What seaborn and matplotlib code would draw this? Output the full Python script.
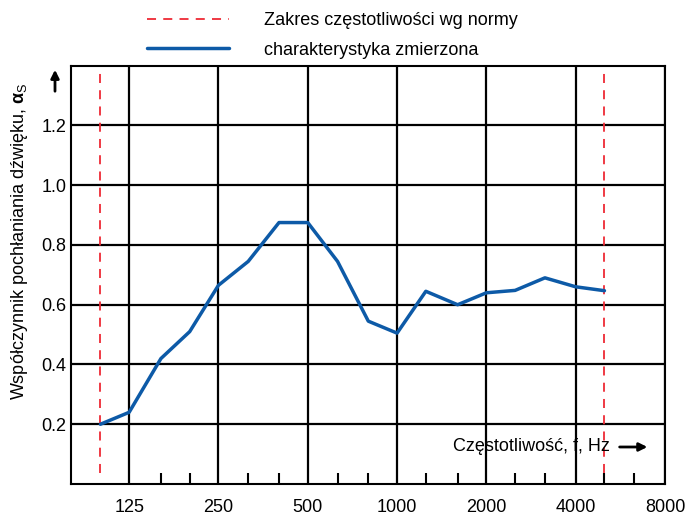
import numpy as np
import pandas as pd
import matplotlib
matplotlib.use("Agg")
import matplotlib.pyplot as plt
import seaborn as sns

# pasma tercjowe i zmierzony wspolczynnik pochlaniania
FREQS = [100, 125, 160, 200, 250, 315, 400, 500, 630, 800, 1000,
         1250, 1600, 2000, 2500, 3150, 4000, 5000]
ALPHA = [0.20, 0.24, 0.42, 0.51, 0.665, 0.745, 0.875, 0.875, 0.745, 0.545, 0.505,
         0.645, 0.60, 0.64, 0.648, 0.69, 0.66, 0.647]
NORM_RANGE = [100, 5000]

MAJOR_X = [125, 250, 500, 1000, 2000, 4000, 8000]
MINOR_X = [160, 200, 315, 400, 630, 800, 1250, 1600, 2500, 3150, 5000, 6300]
MAJOR_Y = [0.2, 0.4, 0.6, 0.8, 1.0, 1.2]

BLUE = "#0d5aa7"
RED = "#ee2a35"
FS = 13

sns.set_theme(style="white")
plt.rcParams["font.family"] = ["Liberation Sans", "DejaVu Sans"]
plt.rcParams["text.color"] = "black"
plt.rcParams["mathtext.fontset"] = "custom"
plt.rcParams["mathtext.rm"] = "Liberation Sans"
plt.rcParams["mathtext.bf"] = "Liberation Sans:bold"

fig = plt.figure(figsize=(6.86, 5.18), dpi=100)
ax = fig.add_axes([0.103, 0.0656, 0.8664, 0.8076])

df = pd.DataFrame({"f": FREQS, "alpha": ALPHA})

for i, f in enumerate(NORM_RANGE):
    ax.plot([f, f], [0.037, 1.395], color=RED, lw=1.3, dashes=(5, 4),
            label="Zakres częstotliwości wg normy" if i == 0 else None, zorder=3)

sns.lineplot(data=df, x="f", y="alpha", ax=ax, color=BLUE, lw=2.5,
             label="charakterystyka zmierzona", zorder=4)

ax.set_xscale("log", base=2)
ax.set_xlim(79.4, 8000)
ax.set_ylim(0, 1.4)

ax.set_xticks(MAJOR_X)
ax.set_xticklabels([str(v) for v in MAJOR_X])
ax.set_xticks(MINOR_X, minor=True)
ax.set_xticklabels([], minor=True)
ax.set_yticks(MAJOR_Y)
ax.set_yticklabels([f"{v:.1f}" for v in MAJOR_Y])

ax.tick_params(axis="both", which="major", length=0, labelsize=FS,
               colors="black", labelcolor="black")
ax.tick_params(axis="x", which="major", pad=11)
ax.tick_params(axis="y", which="major", pad=3)
ax.tick_params(axis="x", which="minor", direction="in", length=8, width=1.5,
               color="black", bottom=True)

ax.grid(True, which="major", color="black", lw=1.6)
ax.set_axisbelow(True)
for s in ax.spines.values():
    s.set_color("black")
    s.set_linewidth(1.5)

ax.set_xlabel("")
ax.set_ylabel("")

# opisy osi
ax.text(0.643, 0.0885, "Częstotliwość, f, Hz", transform=ax.transAxes,
        ha="left", va="center", fontsize=FS, color="black", zorder=5)
ax.annotate("", xy=(0.975, 0.0885), xytext=(0.919, 0.0885),
            xycoords="axes fraction",
            arrowprops=dict(arrowstyle="-|>", color="black", lw=2, mutation_scale=12))

fig.text(20 / 686, 1 - 241 / 518,
         r"Współczynnik pochłaniania dźwięku, $\mathbf{α}_{\mathrm{S}}$",
         rotation=90, ha="center", va="center", fontsize=FS, color="black")
ax.annotate("", xy=(55, 518 - 67), xytext=(55, 518 - 94),
            xycoords="figure pixels",
            arrowprops=dict(arrowstyle="-|>", color="black", lw=2, mutation_scale=12))

fig.legend(loc="upper left", bbox_to_anchor=(131 / 686, 1.008),
           frameon=False, fontsize=FS, handlelength=4.5,
           handletextpad=1.95, labelspacing=0.7, labelcolor="black")
if ax.get_legend():
    ax.get_legend().remove()

fig.savefig("out.png", dpi=100)
